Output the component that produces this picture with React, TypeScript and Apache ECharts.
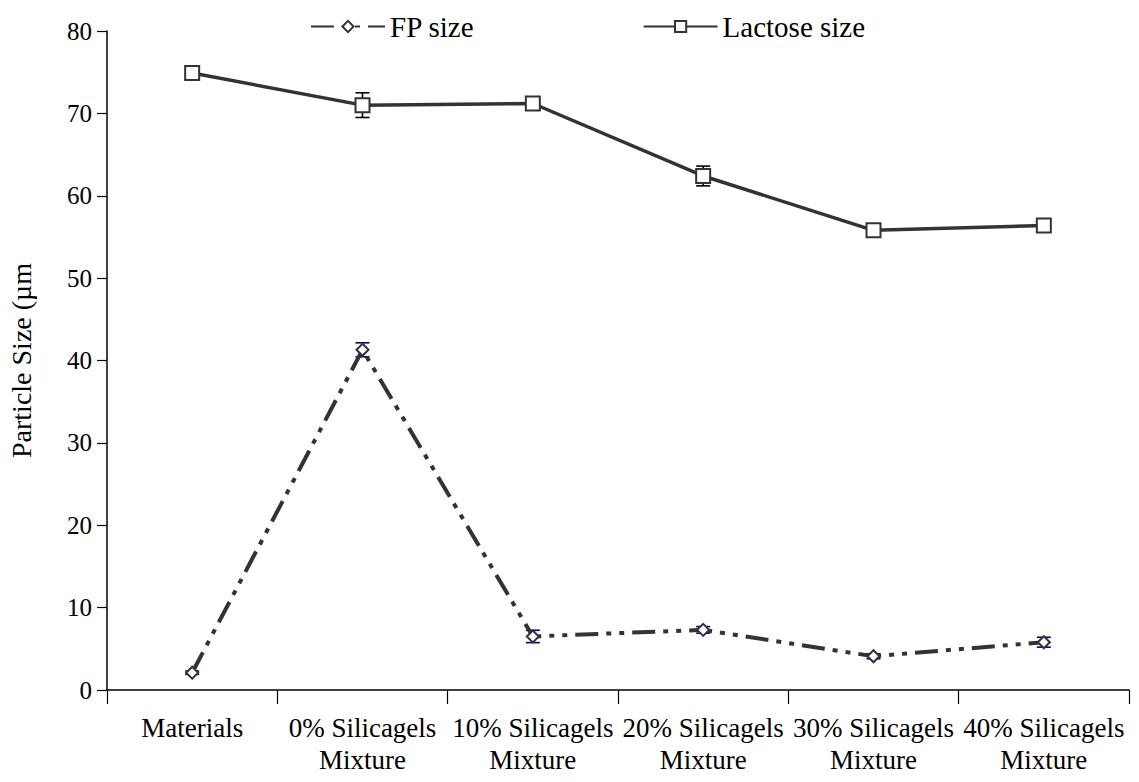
import React, { useEffect, useRef } from "react";
import * as echarts from "echarts";

const categories = [
  "Materials",
  "0% Silicagels\nMixture",
  "10% Silicagels\nMixture",
  "20% Silicagels\nMixture",
  "30% Silicagels\nMixture",
  "40% Silicagels\nMixture",
];
const fpSize = [2.1, 41.3, 6.5, 7.3, 4.1, 5.8];
const fpErr = [0.2, 0.85, 0.75, 0.4, 0.3, 0.6];
const lactoseSize = [74.9, 71.0, 71.2, 62.4, 55.8, 56.4];
const lactoseErr = [0.3, 1.5, 0.3, 1.2, 0.3, 0.8];
const yTicks = { min: 0, max: 80, interval: 10 };

const FONT = "'Liberation Serif', serif";

function errorSeries(values: number[], errs: number[], color: string) {
  return {
    type: "custom",
    silent: true,
    z: 1,
    data: values.map((v, i) => [i, v - errs[i], v + errs[i]]),
    renderItem: (params: any, api: any) => {
      const i = api.value(0);
      const lo = api.coord([i, api.value(1)]);
      const hi = api.coord([i, api.value(2)]);
      const hw = 7;
      const st = { stroke: color, lineWidth: 1.6 };
      return {
        type: "group",
        children: [
          { type: "line", shape: { x1: lo[0], y1: lo[1], x2: hi[0], y2: hi[1] }, style: st },
          { type: "line", shape: { x1: lo[0] - hw, y1: lo[1], x2: lo[0] + hw, y2: lo[1] }, style: st },
          { type: "line", shape: { x1: hi[0] - hw, y1: hi[1], x2: hi[0] + hw, y2: hi[1] }, style: st },
        ],
      };
    },
  };
}

export default function App() {
  const ref = useRef<HTMLDivElement>(null);
  useEffect(() => {
    document.body.style.margin = "0";
    const chart = echarts.init(ref.current!, null, { renderer: "svg" });
    chart.setOption({
      animation: false,
      backgroundColor: "#ffffff",
      textStyle: { fontFamily: FONT, color: "#000" },
      legend: {
        data: ["FP size", "Lactose size"],
        left: 305,
        top: 7,
        itemWidth: 74,
        itemHeight: 14,
        itemGap: 168,
        textStyle: { fontFamily: FONT, fontSize: 29, color: "#000" },
      },
      grid: { left: 107, right: 10, top: 31, bottom: 92, containLabel: false, outerBoundsMode: "none" },
      xAxis: {
        type: "category",
        data: categories,
        boundaryGap: true,
        axisLine: { lineStyle: { color: "#000", width: 1.5 } },
        axisTick: { show: true, length: 14, alignWithLabel: false, lineStyle: { color: "#000", width: 1.2 } },
        axisLabel: {
          interval: 0,
          hideOverlap: false,
          fontFamily: FONT,
          fontSize: 27,
          color: "#000",
          margin: 22,
          lineHeight: 32,
        },
        splitLine: { show: false },
      },
      yAxis: {
        type: "value",
        min: yTicks.min,
        max: yTicks.max,
        interval: yTicks.interval,
        name: "Particle Size (µm",
        nameLocation: "middle",
        nameGap: 72,
        nameRotate: 90,
        nameTextStyle: { fontFamily: FONT, fontSize: 28, color: "#000" },
        axisLine: { show: true, lineStyle: { color: "#000", width: 1.5 } },
        axisTick: { show: true, length: 10, lineStyle: { color: "#000", width: 1.2 } },
        axisLabel: { fontFamily: FONT, fontSize: 25, color: "#000", margin: 15 },
        splitLine: { show: false },
      },
      series: [
        errorSeries(fpSize, fpErr, "#00008b"),
        errorSeries(lactoseSize, lactoseErr, "#000000"),
        {
          name: "FP size",
          type: "line",
          z: 3,
          data: fpSize,
          symbol: "diamond",
          symbolSize: 12,
          showAllSymbol: true,
          lineStyle: { color: "#333333", width: 4, type: [23, 8, 5, 8, 5, 8] },
          itemStyle: { color: "#ffffff", borderColor: "#333333", borderWidth: 2 },
        },
        {
          name: "Lactose size",
          type: "line",
          z: 3,
          data: lactoseSize,
          symbol: "rect",
          symbolSize: 14,
          showAllSymbol: true,
          lineStyle: { color: "#333333", width: 3.5 },
          itemStyle: { color: "#ffffff", borderColor: "#333333", borderWidth: 2 },
        },
      ],
    });
    return () => chart.dispose();
  }, []);
  return <div ref={ref} style={{ width: 1139, height: 782 }} />;
}
